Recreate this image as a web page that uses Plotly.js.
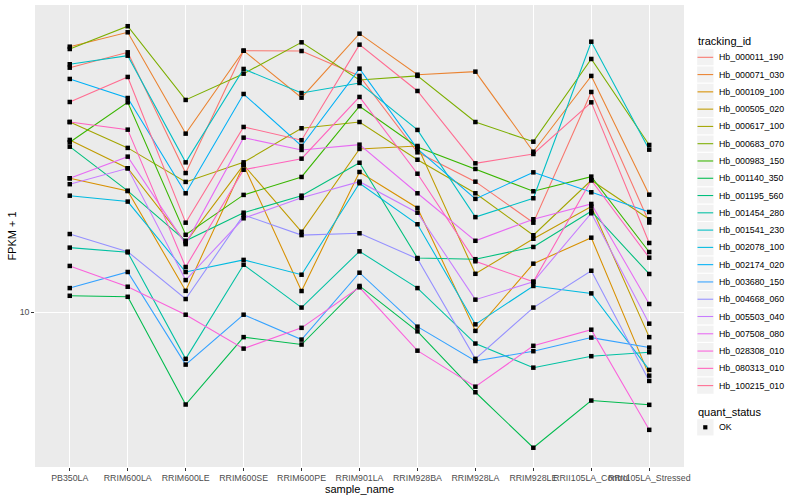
<!DOCTYPE html>
<html><head><meta charset="utf-8">
<script src="https://cdn.plot.ly/plotly-3.0.1.min.js"></script>
<style>html,body{margin:0;padding:0;background:#fff}#chart{width:800px;height:500px}</style>
</head><body><div id="chart"></div>
<script>
const samples = ['PB350LA','RRIM600LA','RRIM600LE','RRIM600SE','RRIM600PE','RRIM901LA','RRIM928BA','RRIM928LA','RRIM928LE','RRII105LA_Control','RRII105LA_Stressed'];
const ids = ['Hb_000011_190','Hb_000071_030','Hb_000109_100','Hb_000505_020','Hb_000617_100','Hb_000683_070','Hb_000983_150','Hb_001140_350','Hb_001195_560','Hb_001454_280','Hb_001541_230','Hb_002078_100','Hb_002174_020','Hb_003680_150','Hb_004668_060','Hb_005503_040','Hb_007508_080','Hb_028308_010','Hb_080313_010','Hb_100215_010'];
const colors = ['#F8766D','#EA8331','#D89000','#C09B00','#A3A500','#7CAE00','#39B600','#00BB4E','#00BF7D','#00C1A3','#00BFC4','#00BAE0','#00B0F6','#35A2FF','#9590FF','#C77CFF','#E76BF3','#FA62DB','#FF62BC','#FF6C91'];
const statusLevels = ['OK'];

// FPKM + 1 per sample (order of samples)
const hb_000011_190 = [30.85, 33.11, 18.99, 33.36, 33.31, 29.70, 20.89, 18.25, 15.11, 27.58, 15.12];
const hb_000071_030 = [33.98, 36.31, 22.77, 33.36, 26.87, 36.08, 29.87, 30.29, 20.95, 29.70, 17.19];
const hb_000109_100 = [18.54, 17.49, 11.04, 19.71, 11.03, 19.08, 16.17, 9.18, 12.51, 14.10, 7.47];
const hb_000505_020 = [22.12, 19.41, 13.80, 19.71, 14.49, 21.22, 21.51, 11.94, 14.03, 16.27, 8.92];
const hb_000617_100 = [24.02, 21.32, 18.23, 19.95, 23.34, 24.02, 20.19, 17.30, 14.26, 18.37, 15.35];
const hb_000683_070 = [33.62, 37.34, 26.59, 30.01, 34.67, 29.15, 29.70, 24.02, 21.94, 32.11, 21.61];
const hb_000983_150 = [21.88, 26.30, 14.29, 17.17, 18.65, 25.83, 21.41, 19.35, 17.46, 18.68, 13.20];
const hb_001140_350 = [10.79, 10.74, 6.54, 8.92, 8.62, 11.29, 9.16, 6.92, 5.36, 6.66, 6.53];
const hb_001195_560 = [21.44, 17.49, 13.90, 15.82, 17.11, 19.91, 12.84, 12.77, 13.51, 15.93, 11.93];
const hb_001454_280 = [13.47, 13.18, 8.07, 12.45, 10.22, 13.24, 11.18, 8.66, 7.75, 8.17, 8.32];
const hb_001541_230 = [31.34, 32.60, 19.95, 30.67, 27.45, 28.75, 23.16, 15.50, 16.91, 34.77, 21.15];
const hb_002078_100 = [17.11, 16.65, 12.04, 12.73, 11.89, 18.12, 15.00, 9.46, 11.29, 10.91, 7.67];
const hb_002174_020 = [29.29, 26.83, 17.30, 27.33, 21.51, 30.71, 21.22, 16.86, 19.05, 17.38, 15.87];
const hb_003680_150 = [11.18, 12.04, 7.86, 9.89, 8.82, 12.00, 9.36, 7.99, 8.36, 8.90, 8.50];
const hb_004668_060 = [14.34, 13.22, 10.63, 15.66, 14.27, 14.39, 12.80, 8.07, 10.22, 12.11, 7.29];
const hb_005503_040 = [18.04, 19.41, 11.60, 15.42, 16.94, 18.25, 15.82, 10.60, 11.51, 15.78, 9.49];
const hb_007508_080 = [18.54, 20.48, 13.69, 22.35, 21.12, 21.64, 17.30, 13.90, 15.35, 16.47, 10.39];
const hb_028308_010 = [12.38, 11.25, 9.89, 8.46, 9.31, 11.22, 8.38, 7.10, 8.57, 9.23, 5.82];
const hb_080313_010 = [24.02, 23.19, 12.32, 19.28, 20.29, 26.96, 18.93, 12.65, 11.51, 18.37, 12.86];
const hb_100215_010 = [26.34, 29.56, 15.11, 23.48, 22.09, 34.30, 27.71, 19.86, 20.73, 26.30, 13.76];

const yTickVals = [10];
const yTickText = ['10'];

const seriesValues = [hb_000011_190, hb_000071_030, hb_000109_100, hb_000505_020, hb_000617_100, hb_000683_070, hb_000983_150, hb_001140_350, hb_001195_560, hb_001454_280, hb_001541_230, hb_002078_100, hb_002174_020, hb_003680_150, hb_004668_060, hb_005503_040, hb_007508_080, hb_028308_010, hb_080313_010, hb_100215_010];

const traces = ids.map((id, i) => ({
  type: 'scatter', mode: 'lines', x: samples, y: seriesValues[i], name: id,
  line: {color: colors[i], width: 1.07}, showlegend: false, hoverinfo: 'skip'
}));
const px = [], py = [];
seriesValues.forEach(v => v.forEach((val, j) => { px.push(samples[j]); py.push(val); }));
traces.push({type: 'scatter', mode: 'markers', x: px, y: py, name: statusLevels[0], showlegend: false,
  marker: {symbol: 'square', size: 4.5, color: 'black'}, hoverinfo: 'skip'});

// ---- legend (ggplot style) drawn in paper coordinates ----
const W = 800, H = 500, ML = 35, MR = 116, MT = 5, MB = 33;
const PW = W - ML - MR, PH = H - MT - MB;
const fx = p => (p - ML) / PW;
const fy = p => (H - MB - p) / PH;
const shapes = [], annotations = [];
const keyL = 696.7, keyR = 714, keyH = 17.28, firstY = 57.3, textX = 716.7;
annotations.push({xref: 'paper', yref: 'paper', x: fx(695.5), y: fy(40.7), xanchor: 'left', yanchor: 'middle',
  text: 'tracking_id', showarrow: false, font: {size: 11, color: 'black'}});
ids.forEach((id, i) => {
  const cy = firstY + keyH * i;
  shapes.push({type: 'rect', xref: 'paper', yref: 'paper', x0: fx(keyL), x1: fx(keyR), y0: fy(cy - keyH / 2), y1: fy(cy + keyH / 2),
    fillcolor: '#F2F2F2', line: {color: 'white', width: 1}, layer: 'above'});
  shapes.push({type: 'line', xref: 'paper', yref: 'paper', x0: fx(keyL + 0.8), x1: fx(keyR - 0.8), y0: fy(cy), y1: fy(cy),
    line: {color: colors[i], width: 1.07}, layer: 'above'});
  annotations.push({xref: 'paper', yref: 'paper', x: fx(textX), y: fy(cy), xanchor: 'left', yanchor: 'middle',
    text: id, showarrow: false, font: {size: 8.8, color: 'black'}});
});
annotations.push({xref: 'paper', yref: 'paper', x: fx(695.5), y: fy(412.3), xanchor: 'left', yanchor: 'middle',
  text: 'quant_status', showarrow: false, font: {size: 11, color: 'black'}});
const okY = 427.3;
shapes.push({type: 'rect', xref: 'paper', yref: 'paper', x0: fx(keyL), x1: fx(keyR), y0: fy(okY - keyH / 2), y1: fy(okY + keyH / 2),
  fillcolor: '#F2F2F2', line: {color: 'white', width: 1}, layer: 'above'});
shapes.push({type: 'rect', xref: 'paper', yref: 'paper', x0: fx(703.2), x1: fx(707.4), y0: fy(okY - 2.1), y1: fy(okY + 2.1),
  fillcolor: 'black', line: {width: 0}, layer: 'above'});
annotations.push({xref: 'paper', yref: 'paper', x: fx(textX), y: fy(okY), xanchor: 'left', yanchor: 'middle',
  text: statusLevels[0], showarrow: false, font: {size: 8.8, color: 'black'}});

const layout = {
  width: W, height: H,
  margin: {l: ML, r: MR, t: MT, b: MB, autoexpand: false},
  paper_bgcolor: 'white', plot_bgcolor: '#EBEBEB',
  font: {family: 'Liberation Sans, Arial, sans-serif', color: 'black'},
  xaxis: {type: 'category', categoryorder: 'array', categoryarray: samples, range: [-0.6, 10.6],
    showgrid: true, gridcolor: 'white', gridwidth: 1.07, zeroline: false, showline: false,
    ticks: 'outside', ticklen: 2.75, tickwidth: 1.07, tickcolor: '#333333', tickangle: 0,
    tickfont: {size: 8.8, color: '#4D4D4D'},
    title: {text: 'sample_name', font: {size: 11, color: 'black'}, standoff: 2}, automargin: false},
  yaxis: {type: 'log', range: [0.6906, 1.6146], tickvals: yTickVals, ticktext: yTickText,
    showgrid: true, gridcolor: 'white', gridwidth: 1.07, zeroline: false, showline: false,
    ticks: 'outside', ticklen: 2.75, tickwidth: 1.07, tickcolor: '#333333',
    tickfont: {size: 8.8, color: '#4D4D4D'},
    title: {text: 'FPKM + 1', font: {size: 11, color: 'black'}, standoff: 0}, automargin: false},
  showlegend: false,
  shapes: shapes,
  annotations: annotations
};
Plotly.newPlot('chart', traces, layout, {staticPlot: true, displayModeBar: false});
</script></body></html>
